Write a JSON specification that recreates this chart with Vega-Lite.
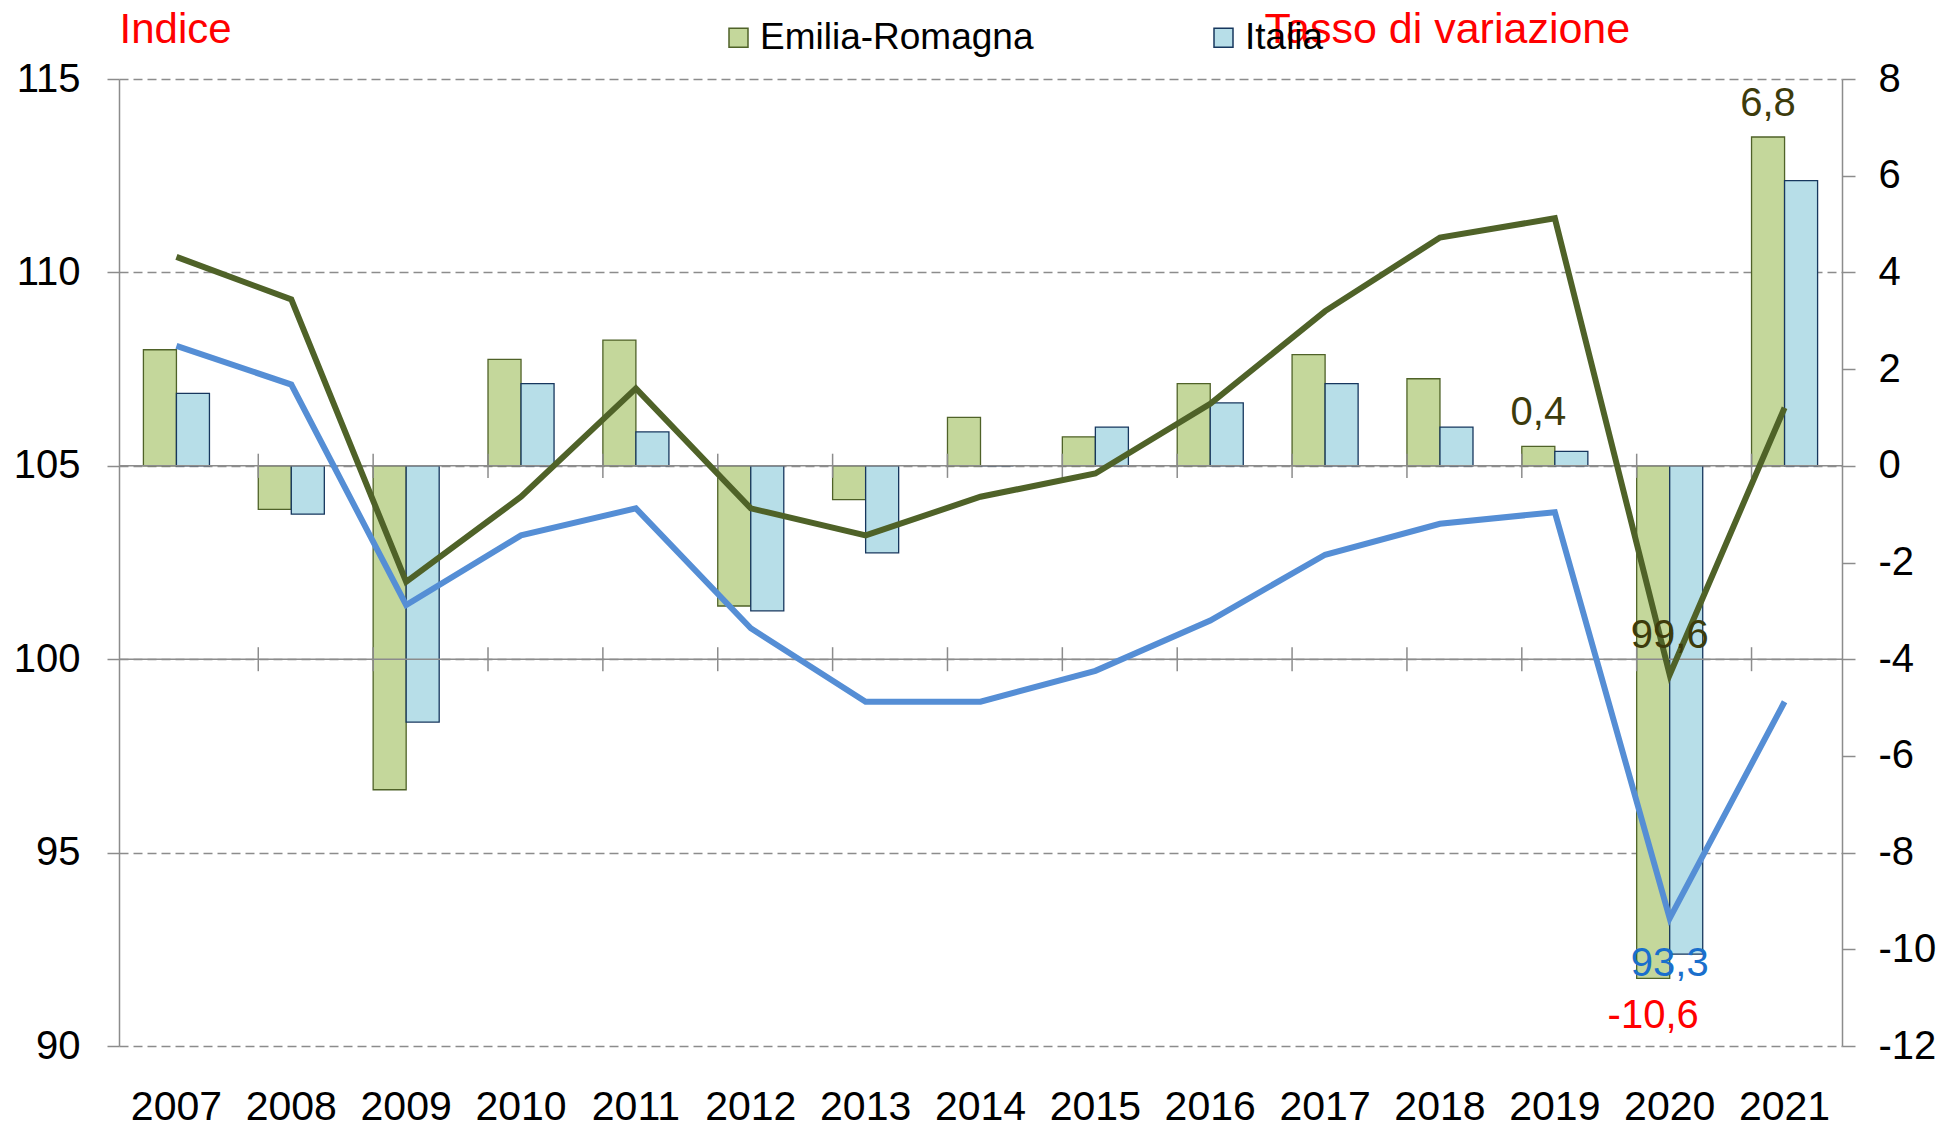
{
  "$schema": "https://vega.github.io/schema/vega-lite/v6.json",
  "width": 1723,
  "height": 967,
  "autosize": {"type": "none"},
  "padding": {"left": 119, "top": 79, "right": 118, "bottom": 83},
  "background": "#ffffff",
  "config": {
    "locale": {"number": {"decimal": ",", "thousands": ".", "grouping": [3], "currency": ["€", ""], "minus": "-"}},
    "font": "Liberation Sans",
    "view": {"stroke": null},
    "axisX": {"domain": false, "ticks": false, "tickSize": 0, "grid": false, "labelFontSize": 41, "labelPadding": 73, "labelBaseline": "alphabetic", "labelAngle": 0, "labelColor": "#000000", "labelFont": "Liberation Sans", "title": null},
    "axisY": {"labelFont": "Liberation Sans", "labelColor": "#000000", "labelFontSize": 40, "domainColor": "#8C8C8C", "domainWidth": 1.5, "tickColor": "#8C8C8C", "tickWidth": 1.5, "titleFont": "Liberation Sans", "titleFontWeight": "normal", "titleColor": "#FF0000", "titleFontSize": 42, "titleAngle": 0, "titleAlign": "left", "titleBaseline": "alphabetic"}
  },
  "data": {
    "values": [
      {"year": "2007", "series": "Emilia-Romagna", "tasso": 2.4, "indice": 110.4},
      {"year": "2007", "series": "Italia", "tasso": 1.5, "indice": 108.1},
      {"year": "2008", "series": "Emilia-Romagna", "tasso": -0.9, "indice": 109.3},
      {"year": "2008", "series": "Italia", "tasso": -1.0, "indice": 107.1},
      {"year": "2009", "series": "Emilia-Romagna", "tasso": -6.7, "indice": 102.0},
      {"year": "2009", "series": "Italia", "tasso": -5.3, "indice": 101.4},
      {"year": "2010", "series": "Emilia-Romagna", "tasso": 2.2, "indice": 104.2},
      {"year": "2010", "series": "Italia", "tasso": 1.7, "indice": 103.2},
      {"year": "2011", "series": "Emilia-Romagna", "tasso": 2.6, "indice": 107.0},
      {"year": "2011", "series": "Italia", "tasso": 0.7, "indice": 103.9},
      {"year": "2012", "series": "Emilia-Romagna", "tasso": -2.9, "indice": 103.9},
      {"year": "2012", "series": "Italia", "tasso": -3.0, "indice": 100.8},
      {"year": "2013", "series": "Emilia-Romagna", "tasso": -0.7, "indice": 103.2},
      {"year": "2013", "series": "Italia", "tasso": -1.8, "indice": 98.9},
      {"year": "2014", "series": "Emilia-Romagna", "tasso": 1.0, "indice": 104.2},
      {"year": "2014", "series": "Italia", "tasso": 0.0, "indice": 98.9},
      {"year": "2015", "series": "Emilia-Romagna", "tasso": 0.6, "indice": 104.8},
      {"year": "2015", "series": "Italia", "tasso": 0.8, "indice": 99.7},
      {"year": "2016", "series": "Emilia-Romagna", "tasso": 1.7, "indice": 106.6},
      {"year": "2016", "series": "Italia", "tasso": 1.3, "indice": 101.0},
      {"year": "2017", "series": "Emilia-Romagna", "tasso": 2.3, "indice": 109.0},
      {"year": "2017", "series": "Italia", "tasso": 1.7, "indice": 102.7},
      {"year": "2018", "series": "Emilia-Romagna", "tasso": 1.8, "indice": 110.9},
      {"year": "2018", "series": "Italia", "tasso": 0.8, "indice": 103.5},
      {"year": "2019", "series": "Emilia-Romagna", "tasso": 0.4, "indice": 111.4},
      {"year": "2019", "series": "Italia", "tasso": 0.3, "indice": 103.8},
      {"year": "2020", "series": "Emilia-Romagna", "tasso": -10.6, "indice": 99.6},
      {"year": "2020", "series": "Italia", "tasso": -10.1, "indice": 93.3},
      {"year": "2021", "series": "Emilia-Romagna", "tasso": 6.8, "indice": 106.5},
      {"year": "2021", "series": "Italia", "tasso": 5.9, "indice": 98.9}
    ]
  },
  "layer": [
    {
      "layer": [
        {
          "mark": {"type": "bar", "strokeWidth": 1.3},
          "encoding": {
            "x": {"field": "year", "type": "ordinal", "title": null, "scale": {"paddingInner": 0.425, "paddingOuter": 0.2125}},
            "xOffset": {"field": "series", "type": "nominal", "scale": {"paddingInner": 0, "paddingOuter": 0}},
            "y": {
              "field": "tasso", "type": "quantitative",
              "scale": {"domain": [-12, 8], "nice": false, "zero": false},
              "axis": {"orient": "right", "values": [-12, -10, -8, -6, -4, -2, 0, 2, 4, 6, 8], "grid": false, "tickSize": 13, "labelPadding": 23, "title": "Tasso di variazione", "titleFontSize": 43, "titleX": -578, "titleY": -37}
            },
            "fill": {
              "field": "series", "type": "nominal",
              "scale": {"domain": ["Emilia-Romagna", "Italia"], "range": ["#C4D79B", "#B7DEE8"]},
              "legend": {"orient": "none", "legendX": 601, "legendY": -60, "direction": "horizontal", "title": null, "symbolType": "square", "symbolSize": 361, "symbolStrokeWidth": 1.5, "labelFontSize": 37, "labelFont": "Liberation Sans", "labelColor": "#000000", "labelOffset": 3, "labelLimit": 600, "columnPadding": 171, "symbolOpacity": 1}
            },
            "stroke": {
              "field": "series", "type": "nominal",
              "scale": {"domain": ["Emilia-Romagna", "Italia"], "range": ["#4F6228", "#17375E"]},
              "legend": {"orient": "none", "legendX": 601, "legendY": -60, "direction": "horizontal", "title": null, "symbolType": "square", "symbolSize": 361, "symbolStrokeWidth": 1.5, "labelFontSize": 37, "labelFont": "Liberation Sans", "labelColor": "#000000", "labelOffset": 3, "labelLimit": 600, "columnPadding": 171, "symbolOpacity": 1}
            }
          }
        },
        {
          "data": {"values": [{"level": 0}]},
          "mark": {"type": "rule", "color": "#8C8C8C", "strokeWidth": 1.5},
          "encoding": {"y": {"field": "level", "type": "quantitative"}}
        },
        {
          "transform": [{"filter": "datum.year != '2007' && datum.series == 'Italia'"}],
          "mark": {"type": "rule", "color": "#8C8C8C", "strokeWidth": 1.5},
          "encoding": {
            "x": {"field": "year", "type": "ordinal", "bandPosition": 0, "title": null},
            "y": {"datum": -0.25},
            "y2": {"datum": 0.25}
          }
        },
        {
          "transform": [{"filter": "datum.series == 'Emilia-Romagna' && (datum.year == '2019' || datum.year == '2021')"}],
          "mark": {"type": "text", "fontSize": 40, "font": "Liberation Sans", "color": "#3D3B0B", "baseline": "alphabetic", "align": "center", "dy": -21},
          "encoding": {
            "x": {"field": "year", "type": "ordinal", "title": null},
            "xOffset": {"field": "series", "type": "nominal"},
            "y": {"field": "tasso", "type": "quantitative"},
            "text": {"field": "tasso", "type": "quantitative", "format": ".1f"}
          }
        },
        {
          "transform": [{"filter": "datum.series == 'Emilia-Romagna' && datum.year == '2020'"}],
          "mark": {"type": "text", "fontSize": 40, "font": "Liberation Sans", "color": "#FF0000", "baseline": "alphabetic", "align": "center", "dy": 50},
          "encoding": {
            "x": {"field": "year", "type": "ordinal", "title": null},
            "xOffset": {"field": "series", "type": "nominal"},
            "y": {"field": "tasso", "type": "quantitative"},
            "text": {"field": "tasso", "type": "quantitative", "format": ".1f"}
          }
        }
      ]
    },
    {
      "layer": [
        {
          "data": {"values": [{"level": 100}]},
          "mark": {"type": "rule", "color": "#8C8C8C", "strokeWidth": 1.5},
          "encoding": {
            "y": {
              "field": "level", "type": "quantitative",
              "scale": {"domain": [90, 115], "nice": false, "zero": false},
              "axis": {"orient": "left", "values": [90, 95, 100, 105, 110, 115], "grid": true, "gridColor": "#8C8C8C", "gridDash": [9, 5], "gridWidth": 1.5, "tickSize": 12, "labelPadding": 27, "title": "Indice", "titleX": 0, "titleY": -37}
            }
          }
        },
        {
          "transform": [{"filter": "datum.year != '2007' && datum.series == 'Italia'"}],
          "mark": {"type": "rule", "color": "#8C8C8C", "strokeWidth": 1.5},
          "encoding": {
            "x": {"field": "year", "type": "ordinal", "bandPosition": 0, "title": null},
            "y": {"datum": 99.69},
            "y2": {"datum": 100.31}
          }
        },
        {
          "transform": [{"filter": "datum.series == 'Emilia-Romagna'"}],
          "mark": {"type": "line", "color": "#4F6228", "strokeWidth": 6},
          "encoding": {
            "x": {"field": "year", "type": "ordinal", "title": null},
            "y": {"field": "indice", "type": "quantitative"}
          }
        },
        {
          "transform": [{"filter": "datum.series == 'Italia'"}],
          "mark": {"type": "line", "color": "#558ED5", "strokeWidth": 6},
          "encoding": {
            "x": {"field": "year", "type": "ordinal", "title": null},
            "y": {"field": "indice", "type": "quantitative"}
          }
        },
        {
          "transform": [{"filter": "datum.series == 'Emilia-Romagna' && datum.year == '2020'"}],
          "mark": {"type": "text", "fontSize": 40, "font": "Liberation Sans", "color": "#3D3B0B", "baseline": "alphabetic", "align": "center", "dy": -27},
          "encoding": {
            "x": {"field": "year", "type": "ordinal", "title": null},
            "y": {"field": "indice", "type": "quantitative"},
            "text": {"field": "indice", "type": "quantitative", "format": ".1f"}
          }
        },
        {
          "transform": [{"filter": "datum.series == 'Italia' && datum.year == '2020'"}],
          "mark": {"type": "text", "fontSize": 40, "font": "Liberation Sans", "color": "#1A6FCC", "baseline": "alphabetic", "align": "center", "dy": 58},
          "encoding": {
            "x": {"field": "year", "type": "ordinal", "title": null},
            "y": {"field": "indice", "type": "quantitative"},
            "text": {"field": "indice", "type": "quantitative", "format": ".1f"}
          }
        }
      ]
    }
  ],
  "resolve": {"scale": {"y": "independent"}}
}
